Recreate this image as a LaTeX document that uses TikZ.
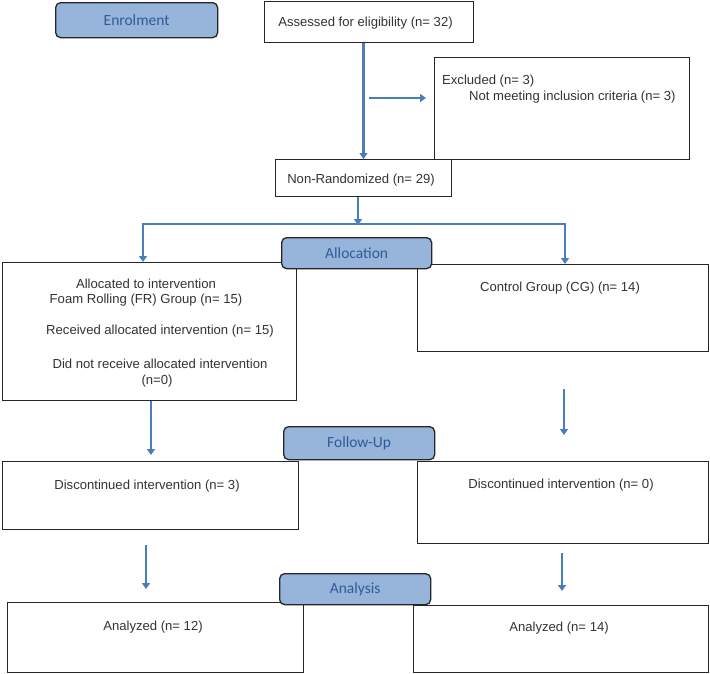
\documentclass[tikz,border=0pt]{standalone}
\usepackage{fontspec}
\setmainfont{Liberation Sans}
\newfontfamily\stagefont{Carlito}
\usetikzlibrary{arrows.meta}
\definecolor{arrowblue}{HTML}{4A7EBB}
\definecolor{stagefill}{HTML}{97B4DB}
\definecolor{stagetext}{HTML}{2F5A9A}
\begin{document}
\begin{tikzpicture}[x=1pt,y=-1pt,
  box/.style={draw=black!85, line width=1pt, fill=white, anchor=north west, inner sep=0pt},
  stage/.style={draw=black!85, line width=1.3pt, fill=stagefill, rounded corners=5pt, anchor=north west, inner sep=0pt,
    font=\stagefont\fontsize{15.5}{17}\selectfont, text=stagetext},
  txt/.style={font=\fontsize{13.1}{15}\selectfont, text=black!80, inner sep=0pt},
  arr/.style={draw=arrowblue, line width=2.5pt, -{Triangle[length=6pt,width=8pt]}}]
\useasboundingbox (0,0) rectangle (710,673);
% boxes
\node[box, minimum width=209pt, minimum height=41pt] (assess) at (264,1) {};
\node[box, minimum width=255pt, minimum height=102pt] (excl) at (434,57) {};
\node[box, minimum width=176pt, minimum height=37pt] (nonrand) at (275,159) {};
\node[box, minimum width=294pt, minimum height=138pt] (fr) at (2,262) {};
\node[box, minimum width=291pt, minimum height=87pt] (cg) at (417,264) {};
\node[box, minimum width=296pt, minimum height=68pt] (discL) at (2,461) {};
\node[box, minimum width=291pt, minimum height=82pt] (discR) at (417,461) {};
\node[box, minimum width=296pt, minimum height=70pt] (anL) at (7,602) {};
\node[box, minimum width=295pt, minimum height=67pt] (anR) at (413,605) {};
% stage labels
\node[stage, minimum width=162pt, minimum height=35pt] (enrol) at (55,2) {Enrolment};
\node[stage, minimum width=150pt, minimum height=31pt] (alloc) at (281,237) {Allocation};
\node[stage, minimum width=151pt, minimum height=33pt] (follow) at (283,426) {Follow-Up};
\node[stage, minimum width=151pt, minimum height=31pt] (analysis) at (279,573) {Analysis};
% texts
\node[txt] (tassess) at (365.5,23) {Assessed for eligibility (n= 32)};
\node[txt, anchor=west] (texcl1) at (442,81) {Excluded (n= 3)};
\node[txt, anchor=west] (texcl2) at (469,97) {Not meeting inclusion criteria (n= 3)};
\node[txt] (tnonrand) at (361,180) {Non-Randomized (n= 29)};
\node[txt] (tfr1) at (146,284) {Allocated to intervention};
\node[txt] (tfr2) at (146,300) {Foam Rolling (FR) Group (n= 15)};
\node[txt] (tfr3) at (160,331) {Received allocated intervention (n= 15)};
\node[txt] (tfr4) at (160,364) {Did not receive allocated intervention};
\node[txt] (tfr5) at (157,381) {(n=0)};
\node[txt] (tcg) at (560,288) {Control Group (CG) (n= 14)};
\node[txt] (tdiscL) at (147,486) {Discontinued intervention (n= 3)};
\node[txt] (tdiscR) at (561,485) {Discontinued intervention (n= 0)};
\node[txt] (tanL) at (153,627) {Analyzed (n= 12)};
\node[txt] (tanR) at (559,628) {Analyzed (n= 14)};
% connectors
\coordinate (e1) at (369,98);
\coordinate (split) at (358,224);
\coordinate (sl) at (143,224);
\coordinate (sr) at (565,224);
\coordinate (c1) at (564,389);
\coordinate (c2) at (564,435);
\coordinate (l1) at (151,455);
\coordinate (d1) at (146,545);
\coordinate (d2) at (146,589);
\coordinate (r1) at (562,553);
\coordinate (r2) at (562,591);
\draw[arr] (assess.south -| nonrand.north) -- (nonrand.north);
\draw[arr, shorten >=8pt] (e1) -- (e1 -| excl.west);
\draw[arr] (nonrand.south -| split) -- ([yshift=-1pt]split);
\draw[arr, {Triangle[length=6pt,width=8pt]}-{Triangle[length=6pt,width=8pt]}, line join=miter]
  (sl |- fr.north) -- (sl) -- (sr) -- (sr |- cg.north);
\draw[arr] (fr.south -| l1) -- (l1);
\draw[arr] (c1) -- (c2);
\draw[arr] (d1) -- (d2);
\draw[arr] (r1) -- (r2);
\end{tikzpicture}
\end{document}
